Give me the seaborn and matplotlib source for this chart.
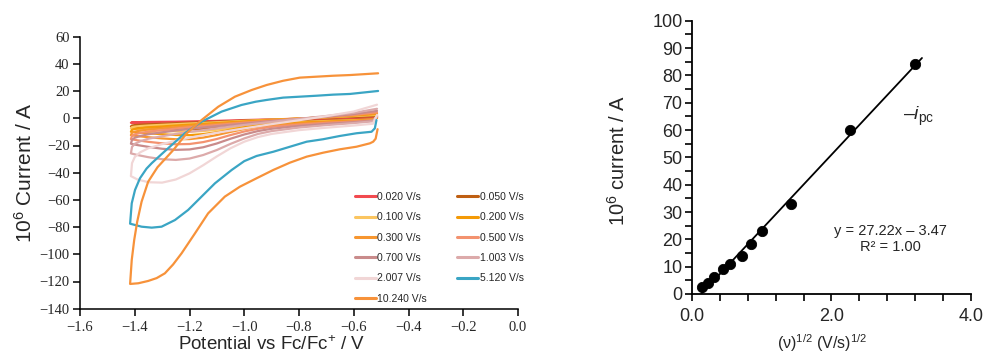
import numpy as np
import pandas as pd
import matplotlib.pyplot as plt
import seaborn as sns
from matplotlib.ticker import MultipleLocator, FixedLocator, FormatStrFormatter, FuncFormatter

sns.set_style("ticks")
plt.rcParams['font.family'] = ['Liberation Sans', 'DejaVu Sans']
plt.rcParams['mathtext.fontset'] = 'custom'
plt.rcParams['mathtext.rm'] = 'Liberation Sans'
plt.rcParams['mathtext.it'] = 'Liberation Sans:italic'

#############################################################################
# scan rates and colours of the CV traces
scan_labels = ["0.020 V/s", "0.050 V/s", "0.100 V/s", "0.200 V/s", "0.300 V/s", "0.500 V/s",
               "0.700 V/s", "1.003 V/s", "2.007 V/s", "5.120 V/s", "10.240 V/s"]
scan_colors = ["#f24a4f", "#bf5f12", "#fbc560", "#f49a06", "#f7962f", "#f3926f",
               "#c98b8b", "#dcaaaa", "#f1d6d6", "#3aa5c4", "#f7923a"]

# potential grid used for the slower scans (forward sweep then reverse sweep)
E_slow = [-0.515, -0.53, -0.6, -0.7, -0.8, -0.9, -0.95, -1.0, -1.05, -1.1, -1.15, -1.2, -1.25, -1.3, -1.35, -1.39, -1.414,
          -1.41, -1.40, -1.38, -1.35, -1.3, -1.25, -1.2, -1.15, -1.1, -1.0, -0.9, -0.8, -0.7, -0.6, -0.515]

I_0020 = [0.3, -0.6, -1.0, -1.4, -1.9, -2.6, -3.1, -3.7, -4.4, -5.0, -5.3, -5.2, -4.8, -4.3, -3.8, -3.5, -3.3,
          -3.0, -2.9, -2.8, -2.7, -2.6, -2.5, -2.3, -2.1, -1.9, -1.3, -0.8, -0.3, 0.2, 0.6, 1.0]
I_0050 = [0.4, -0.8, -1.2, -1.7, -2.3, -3.2, -3.9, -4.8, -6.0, -7.1, -7.8, -8.0, -7.7, -7.2, -6.7, -6.3, -6.0,
          -5.3, -5.0, -4.7, -4.4, -4.0, -3.6, -3.2, -2.9, -2.5, -1.7, -1.0, -0.3, 0.4, 1.0, 1.7]
I_0100 = [0.6, -0.9, -1.4, -2.0, -2.7, -3.7, -4.5, -5.6, -7.0, -8.4, -9.4, -9.8, -9.6, -9.0, -8.4, -7.9, -7.5,
          -6.5, -6.1, -5.7, -5.3, -4.8, -4.3, -3.8, -3.4, -2.9, -1.9, -1.0, -0.2, 0.7, 1.6, 2.5]
I_0200 = [0.8, -1.0, -1.7, -2.4, -3.2, -4.4, -5.3, -6.6, -8.4, -10.2, -11.6, -12.4, -12.3, -11.7, -11.0, -10.4, -9.9,
          -8.4, -7.8, -7.2, -6.6, -6.0, -5.3, -4.7, -4.1, -3.5, -2.3, -1.2, -0.2, 0.9, 2.0, 3.2]
I_0300 = [1.0, -1.2, -2.0, -2.8, -3.8, -5.2, -6.3, -7.9, -10.0, -12.3, -14.2, -15.3, -15.4, -14.8, -13.9, -13.1, -12.4,
          -10.6, -9.8, -9.0, -8.2, -7.3, -6.4, -5.6, -4.9, -4.1, -2.8, -1.5, -0.3, 0.9, 2.2, 3.8]
I_0500 = [1.2, -1.5, -2.4, -3.4, -4.6, -6.3, -7.7, -9.7, -12.3, -15.2, -17.5, -18.9, -19.1, -18.4, -17.3, -16.2, -15.3,
          -13.0, -11.8, -10.8, -9.8, -8.7, -7.6, -6.6, -5.8, -4.9, -3.3, -1.8, -0.4, 1.0, 2.6, 4.5]
I_0700 = [1.5, -1.8, -2.9, -4.1, -5.6, -7.7, -9.4, -11.9, -15.0, -18.5, -21.3, -22.9, -23.2, -22.4, -21.0, -19.7, -18.7,
          -15.8, -14.3, -13.0, -11.7, -10.3, -9.0, -7.8, -6.8, -5.8, -3.9, -2.1, -0.5, 1.2, 3.1, 5.5]
I_1003 = [1.8, -2.2, -3.5, -5.0, -6.8, -9.4, -11.5, -14.8, -18.8, -23.3, -27.0, -29.6, -30.6, -30.1, -28.6, -27.0, -25.8,
          -21.0, -18.8, -16.9, -15.0, -13.2, -11.5, -10.0, -8.7, -7.4, -4.9, -2.6, -0.4, 1.7, 4.0, 7.0]
I_2007 = [2.5, -4.0, -5.3, -6.9, -8.7, -11.5, -13.8, -17.2, -22.0, -28.0, -34.5, -40.5, -45.0, -47.3, -47.0, -45.0, -42.5,
          -33.0, -28.5, -25.0, -22.0, -19.0, -16.5, -14.3, -12.4, -10.6, -7.4, -4.3, -1.4, 1.6, 5.0, 10.0]

# the two fast scans, read point by point
E_5120 = [-0.517, -0.523, -0.535, -0.59, -0.651, -0.712, -0.772, -0.833, -0.894, -0.955, -1.0, -1.046, -1.107, -1.156,
          -1.205, -1.253, -1.302, -1.338, -1.375, -1.417,
          -1.411, -1.399, -1.381, -1.357, -1.338, -1.30, -1.278, -1.217, -1.156, -1.083, -1.01, -0.958, -0.918, -0.858,
          -0.797, -0.736, -0.675, -0.614, -0.511]
I_5120 = [-1.3, -7.4, -9.9, -11.0, -13.0, -15.4, -17.2, -20.9, -24.6, -27.7, -31.5, -38.0, -47.8, -57.6,
          -67.4, -74.8, -79.7, -80.4, -79.7, -77.5,
          -62.5, -52.7, -44.1, -37.0, -33.0, -26.0, -22.0, -11.0, -2.5, 4.9, 9.8, 12.2, 13.5, 15.2,
          15.9, 16.6, 17.4, 17.9, 20.1]

E_10240 = [-0.513, -0.52, -0.529, -0.541, -0.59, -0.651, -0.712, -0.772, -0.833, -0.894, -0.955, -1.016, -1.071, -1.132,
           -1.18, -1.229, -1.26, -1.29, -1.32, -1.351, -1.387, -1.417,
           -1.411, -1.402, -1.391, -1.375, -1.351, -1.317, -1.259, -1.210, -1.156, -1.095, -1.034, -0.973, -0.918,
           -0.858, -0.797, -0.736, -0.675, -0.614, -0.511]
I_10240 = [-8.0, -15.0, -17.2, -18.4, -20.9, -22.8, -25.3, -28.2, -32.6, -38.0, -44.1, -50.3, -57.6, -69.9,
           -84.6, -99.3, -107.5, -114.0, -117.5, -119.6, -121.3, -121.8,
           -104.2, -89.5, -76.0, -61.3, -46.6, -36.0, -23.3, -11.0, -1.3, 8.5, 15.9, 20.8, 24.5,
           27.6, 29.9, 30.6, 31.3, 31.8, 33.1]

# peak current vs square root of scan rate
sqrt_v = [0.141, 0.224, 0.316, 0.447, 0.548, 0.707, 0.837, 1.002, 1.417, 2.263, 3.200]
ipc = [2.4, 4.1, 6.3, 9.3, 11.0, 13.9, 18.2, 23.2, 32.9, 60.0, 84.1]
fit_slope = 27.22
fit_intercept = -3.47
fit_x = [0.13, 3.30]

#############################################################################
fig = plt.figure(figsize=(9.83, 3.56), dpi=100)
ax1 = fig.add_axes([80 / 983, 1 - 308.7 / 356, 438 / 983, 272 / 356])
ax2 = fig.add_axes([692.3 / 983, 1 - 294 / 356, 278.4 / 983, 273.3 / 356])

curves = [(E_slow, I_0020), (E_slow, I_0050), (E_slow, I_0100), (E_slow, I_0200), (E_slow, I_0300),
          (E_slow, I_0500), (E_slow, I_0700), (E_slow, I_1003), (E_slow, I_2007),
          (E_5120, I_5120), (E_10240, I_10240)]

for (E, I), lab, col in zip(curves, scan_labels, scan_colors):
    sns.lineplot(x=E, y=I, sort=False, estimator=None, color=col, lw=1.6, label=lab, ax=ax1)

minus_fmt = lambda fmt: FuncFormatter(lambda v, p: (fmt % v).replace('-', '\u2212'))

ax1.set_xlim(-1.6, 0.0)
ax1.set_ylim(-140, 60)
ax1.xaxis.set_major_locator(MultipleLocator(0.2))
ax1.xaxis.set_major_formatter(minus_fmt('%.1f'))
ax1.yaxis.set_major_locator(MultipleLocator(20))
ax1.yaxis.set_major_formatter(minus_fmt('%d'))
sns.despine(ax=ax1)
for sp in ['left', 'bottom']:
    ax1.spines[sp].set_linewidth(1.1)
    ax1.spines[sp].set_color('black')
ax1.tick_params(direction='out', length=5, width=1.1, color='black', labelsize=10.5)
ax1.tick_params(axis='x', pad=3.5)
ax1.tick_params(axis='y', pad=2.5)
for lbl in ax1.get_xticklabels() + ax1.get_yticklabels():
    lbl.set_fontfamily('Liberation Serif')

ax1.set_xlabel("Potential vs Fc/Fc$^{+}$ / V", fontsize=13.5, va='top')
ax1.xaxis.set_label_coords(0.438, -0.097)
ax1.set_ylabel("10$^{6}$ Current / A", fontsize=15)
ax1.yaxis.set_label_coords(-0.10, 0.5)

handles, labels = ax1.get_legend_handles_labels()
order = [0, 2, 4, 6, 8, 10, 1, 3, 5, 7, 9]
leg = ax1.legend([handles[i] for i in order], [labels[i] for i in order], ncol=2, frameon=False,
                 loc='upper left', bbox_to_anchor=(0.628, 0.43), borderaxespad=0, borderpad=0,
                 fontsize=7.5, handlelength=2.0, handletextpad=0.15, columnspacing=2.9, labelspacing=1.0)
for h in leg.get_lines():
    h.set_linewidth(2.2)

#############################################################################
fit_y = [fit_slope * x + fit_intercept for x in fit_x]
sns.lineplot(x=fit_x, y=fit_y, color='black', lw=1.3, ax=ax2)
sns.scatterplot(x=sqrt_v, y=ipc, color='black', edgecolor='black', s=55, zorder=3, ax=ax2)

ax2.set_xlim(0, 4)
ax2.set_ylim(0, 100)
ax2.xaxis.set_major_locator(FixedLocator([0, 2, 4]))
ax2.xaxis.set_major_formatter(FormatStrFormatter('%.1f'))
ax2.xaxis.set_minor_locator(MultipleLocator(0.4))
ax2.yaxis.set_major_locator(MultipleLocator(10))
ax2.yaxis.set_minor_locator(MultipleLocator(5))
sns.despine(ax=ax2)
for sp in ['left', 'bottom']:
    ax2.spines[sp].set_linewidth(1.3)
    ax2.spines[sp].set_color('black')
ax2.tick_params(which='both', direction='out', length=5, width=1.2, color='black', labelsize=13)
ax2.tick_params(axis='x', pad=5)
ax2.tick_params(axis='y', pad=2)

ax2.set_xlabel("(\u03bd)$^{1/2}$ (V/s)$^{1/2}$", fontsize=11.5, va='top')
ax2.xaxis.set_label_coords(0.468, -0.14)
ax2.set_ylabel("10$^{6}$ current / A", fontsize=14.5)
ax2.yaxis.set_label_coords(-0.227, 0.49)

ax2.text(2.84, 20.1, "y = 27.22x \u2013 3.47\nR\u00b2 = 1.00", ha='center', va='center',
         fontsize=10.5, linespacing=1.2)
ax2.text(3.03, 63.7, "\u2013$\\mathit{i}_{\\rm pc}$", ha='left', va='baseline', fontsize=14)

fig.savefig("out.png", dpi=100)
